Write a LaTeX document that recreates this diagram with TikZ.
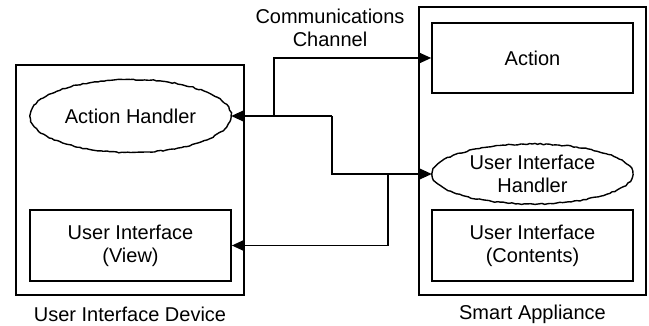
\documentclass[tikz,border=0pt]{standalone}
\usepackage{fontspec}
\setmainfont{Liberation Sans}
\usetikzlibrary{shapes.geometric,arrows.meta,decorations.pathmorphing}
\begin{document}
\begin{tikzpicture}[x=1pt,y=-1pt,
  every node/.style={font=\fontsize{20}{23}\selectfont},
  box/.style={draw,line width=1.6pt,inner sep=0pt,align=center},
  oval/.style={ellipse,inner sep=0pt,align=center,
    postaction={draw,line width=1.4pt,
      decorate,decoration={random steps,segment length=3pt,amplitude=0.6pt}}},
  link/.style={line width=1.6pt,-{Triangle[length=12.5pt,width=11pt]}},
  plain/.style={line width=1.6pt}]
  \pgfmathsetseed{7}
  \useasboundingbox (0,0) rectangle (649,326);

  % outer device boxes
  \node[box,minimum width=228pt,minimum height=230pt] (dev) at (130,180) {};
  \node[box,minimum width=227pt,minimum height=288pt] (app) at (532.5,151) {};

  % smart appliance parts
  \node[box,minimum width=201pt,minimum height=70pt] (act) at (532.5,58) {Action};
  \node[oval,minimum width=201pt,minimum height=60pt] (uih) at (532.5,174) {User Interface\\Handler};
  \node[box,minimum width=201pt,minimum height=71pt] (uic) at (532.5,245.5) {User Interface\\(Contents)};

  % user interface device parts
  \node[oval,minimum width=201pt,minimum height=73pt] (ah) at (130.5,116) {Action Handler};
  \node[box,minimum width=201pt,minimum height=71pt] (uiv) at (130.5,245.5) {User Interface\\(View)};

  % captions
  \node[align=center] (chan) at (330,28) {Communications\\Channel};
  \node (devlbl) at (130,314) {User Interface Device};
  \node (applbl) at (532.5,314) {Smart Appliance};

  % communications channel wiring
  \coordinate (ja) at (274,116);
  \coordinate (jb) at (332,116);
  \coordinate (jc) at (388,174);
  \draw[link] (jb) -- (ah.east);
  \draw[link] (ja) |- (act.west);
  \draw[link] (jb) |- (uih.west);
  \draw[link] (jc) |- (uiv.east);
\end{tikzpicture}
\end{document}
